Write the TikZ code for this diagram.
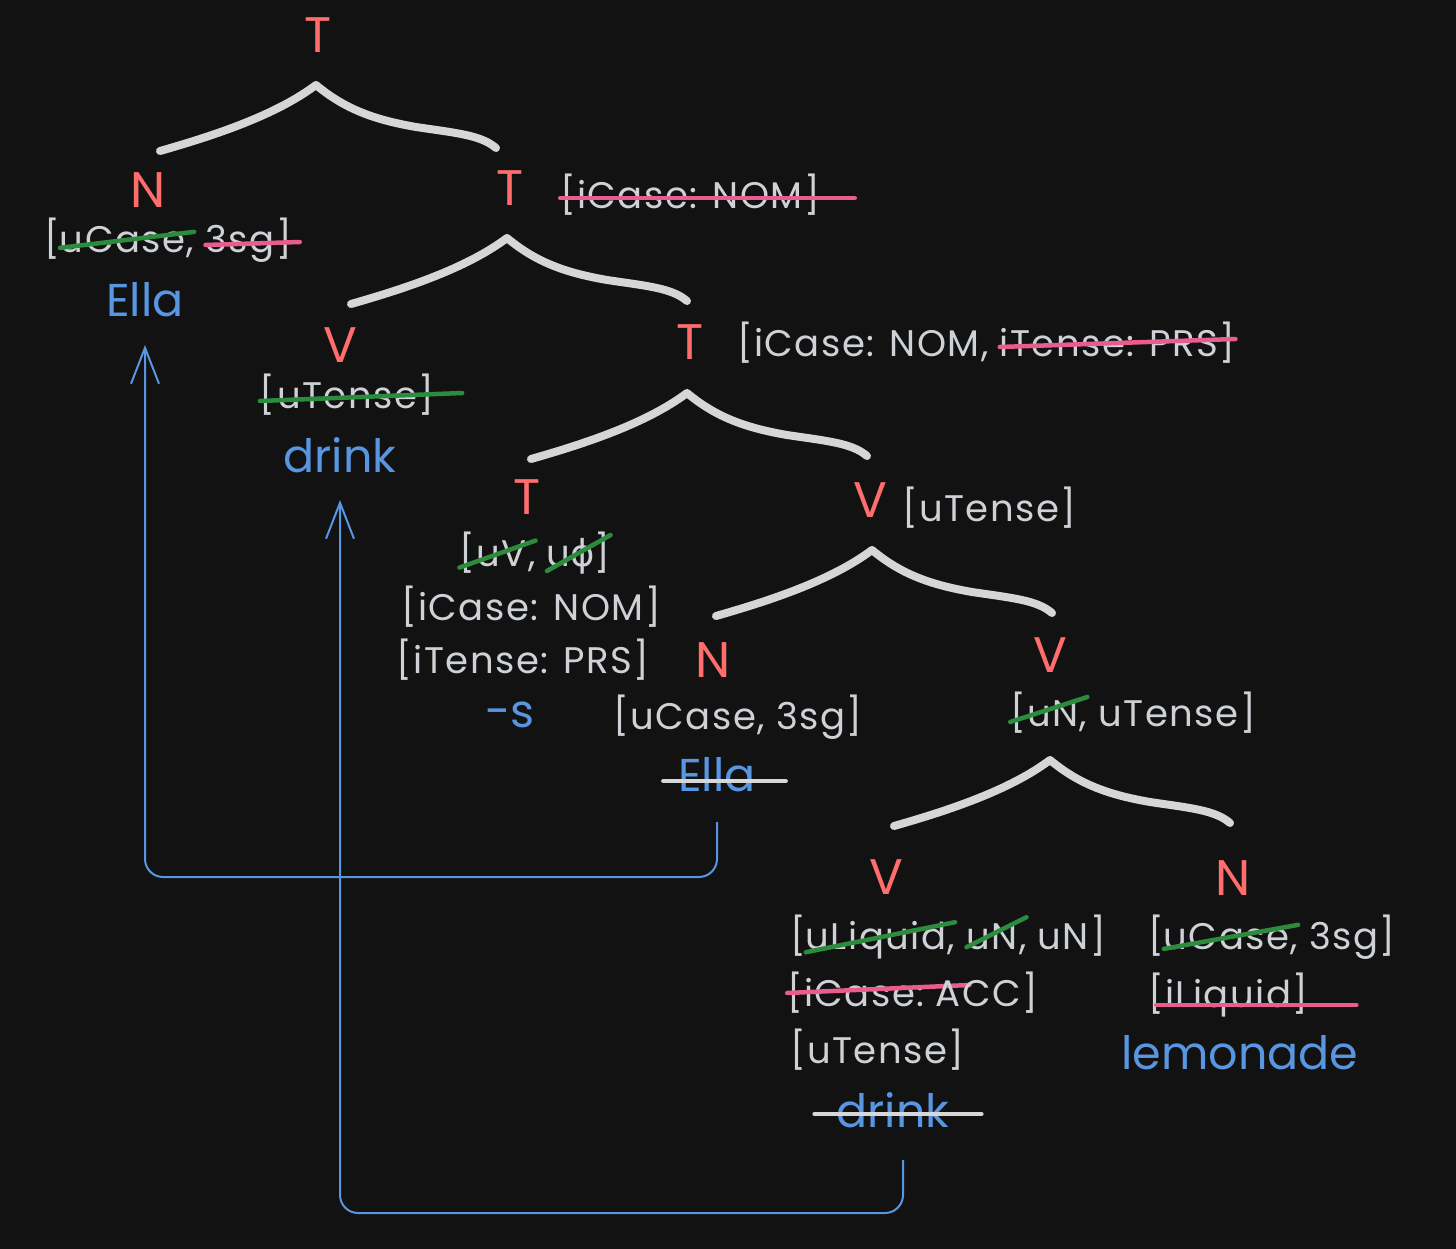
\documentclass[tikz,border=0pt]{standalone}
\usepackage{fontspec}
\setmainfont{Poppins}
\newfontfamily\symfnt{DejaVu Sans}
\usetikzlibrary{arrows.meta}
\definecolor{bg}{RGB}{18,18,18}
\definecolor{labred}{RGB}{255,110,108}
\definecolor{txtgrey}{RGB}{206,210,214}
\definecolor{wordblue}{RGB}{88,150,226}
\definecolor{stkgreen}{RGB}{44,140,62}
\definecolor{stkpink}{RGB}{232,92,142}
\definecolor{stkgrey}{RGB}{215,215,215}
\definecolor{bracecol}{RGB}{214,214,214}
% #1 colour, #2 left ext, #3 right ext, #4 left y, #5 right y, #6 text
\newcommand\stk[6]{\tikz[baseline=(s.base)]{\node[inner sep=0pt,outer sep=0pt,anchor=center](s){#6};\draw[overlay,#1,line width=4.5pt,line cap=round]([xshift=-#2pt,yshift=#4pt]s.west)--([xshift=#3pt,yshift=#5pt]s.east);}}
\begin{document}
\begin{tikzpicture}[x=1pt,y=-1pt,
  lab/.style={text=labred,font=\fontsize{50}{54}\selectfont,inner sep=0pt},
  feat/.style={text=txtgrey,font=\fontsize{37}{40}\selectfont\addfontfeature{LetterSpace=4},inner sep=0pt},
  word/.style={text=wordblue,font=\fontsize{46}{54}\selectfont,inner sep=0pt},
  mv/.style={draw=wordblue,line width=2pt,rounded corners=18pt,-{Straight Barb[length=36pt,width=28pt,line width=2pt]}},
  pics/tbrace/.style={code={\draw[bracecol,line width=8pt,line cap=round,line join=round]
    (-156,66) .. controls (-100,50) and (-40,30) .. (0,0)
    .. controls (30,25) and (60,35) .. (100,42)
    .. controls (140,48) and (165,50) .. (180,63);}}]
\fill[bg] (0,0) rectangle (1456,1249);
\useasboundingbox (0,0) rectangle (1456,1249);

% braces
\pic at (316,85) {tbrace};
\pic at (507,238) {tbrace};
\pic at (687,393) {tbrace};
\pic at (872,550) {tbrace};
\pic at (1050,760) {tbrace};

% root
\node[lab] (t0) at (318,35) {T};

% N Ella (spec)
\node[lab] (n1) at (148,190) {N};
\node[feat] (n1f) at (168,240) {[\stk{stkgreen}{0}{0}{-6}{10}{uCase,} \stk{stkpink}{0}{8}{-5}{-2}{3sg]}};
\node[word] (ella1) at (145,300) {Ella};

% T'
\node[lab] (t1) at (510,188) {T};
\node[feat,anchor=west] (t1f) at (560,195) {\stk{stkpink}{0}{35}{-3}{-3}{[iCase: NOM]}};

% V drink (moved)
\node[lab] (v1) at (340,345) {V};
\node[feat] (v1f) at (347,395) {\stk{stkgreen}{0}{28}{-6}{2}{[uTense]}};
\node[word] (drink1) at (340,455) {drink};

% T''
\node[lab] (t2) at (690,342) {T};
\node[feat,anchor=west] (t2f) at (737,343) {[iCase: NOM, \stk{stkpink}{0}{0}{-4}{4}{iTense: PRS]}};

% T head
\node[lab] (t3) at (527,497) {T};
\node[feat] (t3a) at (535,553) {\stk{stkgreen}{0}{0}{-15}{12}{[uV,} \stk{stkgreen}{0}{0}{-18}{18}{u{\symfnt ϕ}]}};
\node[feat] (t3b) at (531,607) {[iCase: NOM]};
\node[feat] (t3c) at (523,660) {[iTense: PRS]};
\node[word] (sfx) at (510,715) {-s};

% V'
\node[lab] (v2) at (870,500) {V};
\node[feat,anchor=west] (v2f) at (902,508) {[uTense]};

% N Ella (base)
\node[lab] (n2) at (713,660) {N};
\node[feat] (n2f) at (738,717) {[uCase, 3sg]};
\node[word] (ella2) at (717,775) {\stk{stkgrey}{15}{30}{-6}{-6}{Ella}};

% V''
\node[lab] (v3) at (1050,655) {V};
\node[feat] (v3f) at (1133,713) {\stk{stkgreen}{0}{0}{-9}{16}{[uN,} uTense]};

% V drink (base)
\node[lab] (v4) at (886,877) {V};
\node[feat,anchor=west] (v4a) at (790,937) {[\stk{stkgreen}{0}{0}{-12}{18}{uLiquid,} \stk{stkgreen}{0}{0}{-8}{22}{uN,} uN]};
\node[feat,anchor=west] (v4b) at (787,993) {\stk{stkpink}{0}{45}{0}{8}{[iCase:} ACC]};
\node[feat,anchor=west] (v4c) at (790,1050) {[uTense]};
\node[word] (drink2) at (893,1110) {\stk{stkgrey}{22}{32}{-4}{-4}{drink}};

% N lemonade
\node[lab] (n3) at (1233,878) {N};
\node[feat,anchor=west] (n3a) at (1148,937) {[\stk{stkgreen}{0}{0}{-10}{14}{uCase,} 3sg]};
\node[feat,anchor=west] (n3b) at (1148,995) {\stk{stkpink}{-8}{48}{-10}{-10}{[iLiquid]}};
\node[word] (lem) at (1240,1053) {lemonade};

% movement arrows
\coordinate (c1) at (0,877);
\coordinate (c2) at (0,1213);
\draw[mv] ([yshift=-47pt]ella2.center) -- (ella2.center |- c1) -- (ella1.center |- c1) -- ([yshift=-45pt]ella1.center);
\draw[mv] ([xshift=10pt,yshift=-50pt]drink2.center) -- ([xshift=10pt]drink2.center |- c2) -- (drink1.center |- c2) -- ([yshift=-45pt]drink1.center);
\end{tikzpicture}
\end{document}
